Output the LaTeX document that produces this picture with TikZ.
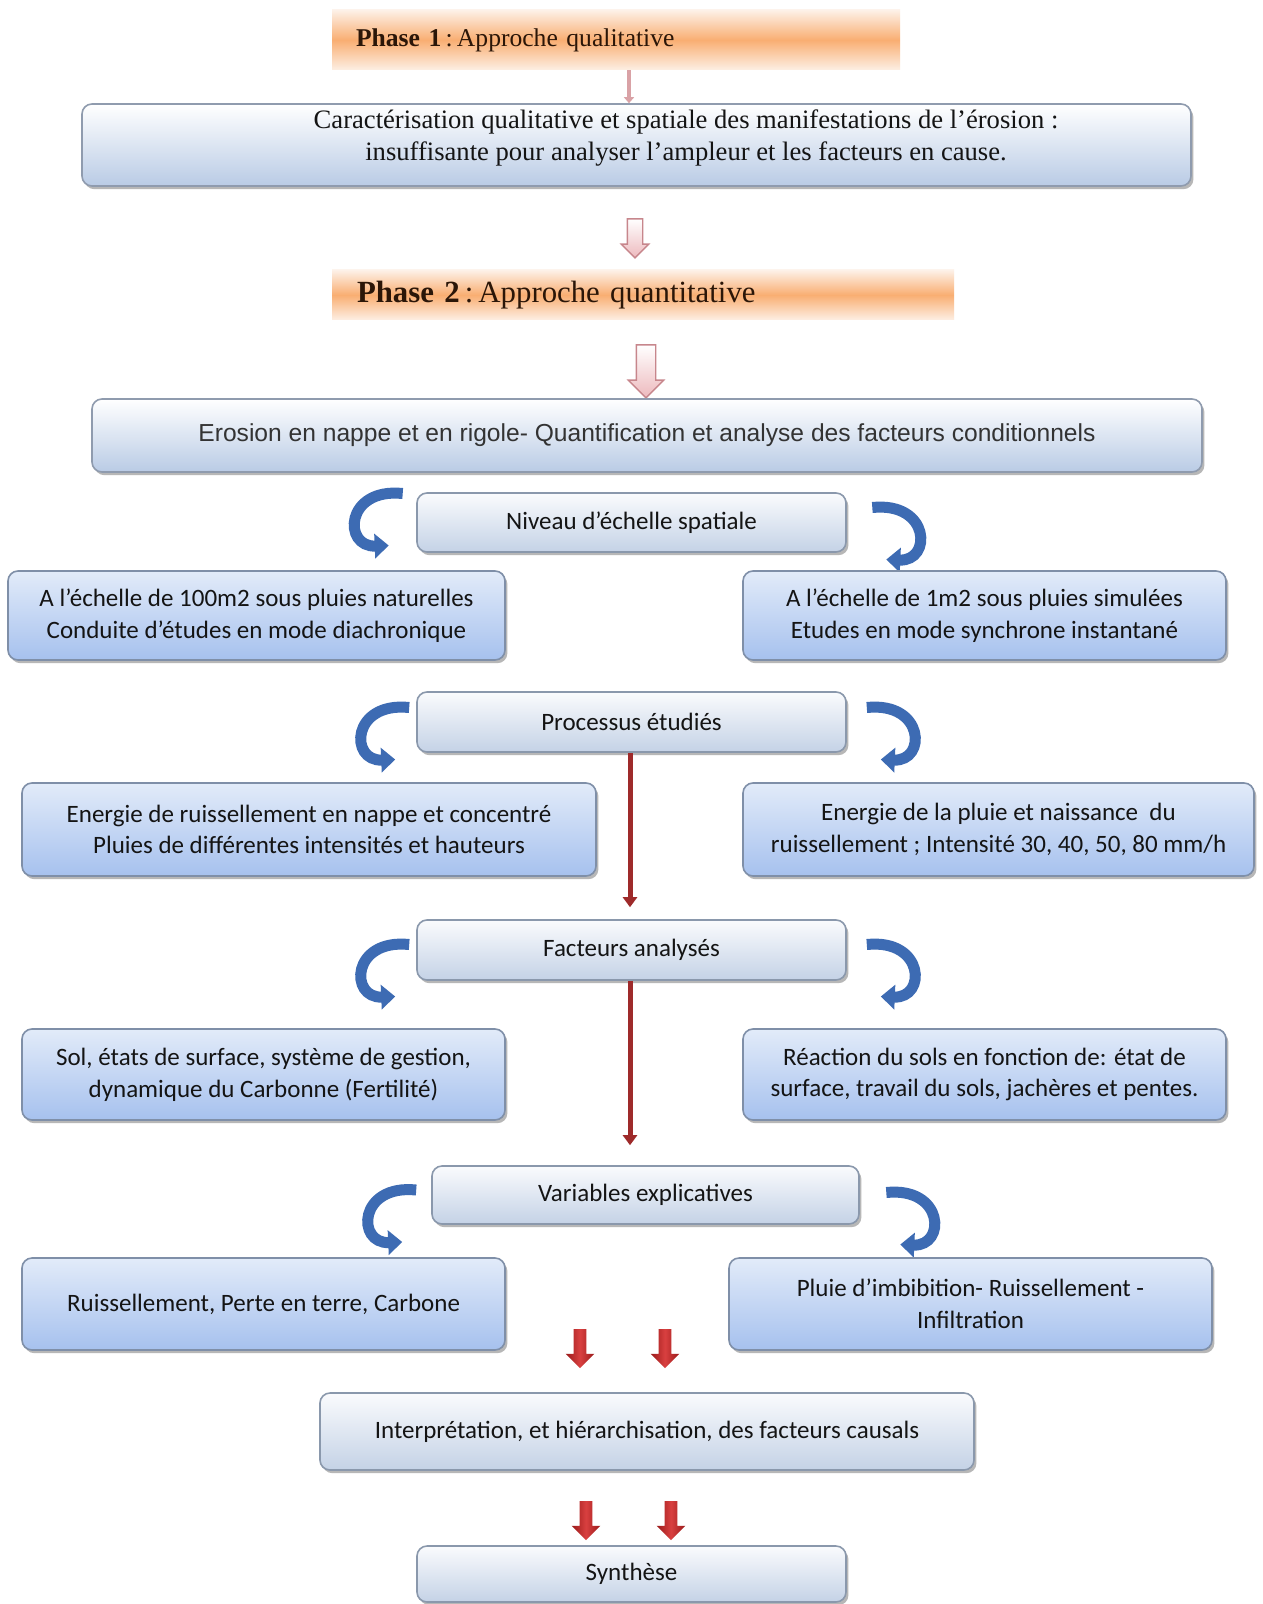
\documentclass[tikz,border=0pt]{standalone}
\usepackage{fontspec}
\setmainfont{Carlito}
\newfontfamily\serf{Liberation Serif}
\newfontfamily\arialf{Liberation Sans}
\usetikzlibrary{shapes.arrows,shadows,arrows.meta,calc}
\definecolor{textc}{HTML}{141414}
\definecolor{phtxt}{HTML}{2B1608}
\definecolor{phtop}{HTML}{FDF1E8}
\definecolor{phmid}{HTML}{F9AE72}
\definecolor{phbot}{HTML}{FDEFE4}
\definecolor{headtop}{HTML}{FAFBFD}
\definecolor{headbot}{HTML}{C4D2E6}
\definecolor{headdraw}{HTML}{8A98AC}
\definecolor{conttop}{HTML}{E2EBF9}
\definecolor{contbot}{HTML}{A6C1EE}
\definecolor{contdraw}{HTML}{7F8FA8}
\definecolor{titbot}{HTML}{B9CBE5}
\definecolor{titdraw}{HTML}{8F9BAE}
\definecolor{curlc}{HTML}{3D6BB3}
\definecolor{redl}{HTML}{9E2A2A}
\definecolor{pinkl}{HTML}{D9A2A6}
\definecolor{pinkd}{HTML}{C7868C}
\definecolor{pinkf}{HTML}{EDB9BD}
\definecolor{redd}{HTML}{9A1A1A}
\definecolor{redm}{HTML}{D94040}
\begin{document}
\begin{tikzpicture}[x=0.5pt,y=-0.5pt,
  basebox/.style={rounded corners=5pt, line width=0.8pt, align=center, inner sep=0pt,
    text=textc, font=\fontsize{12.5}{15.9}\selectfont,
    drop shadow={shadow xshift=1.2pt, shadow yshift=-1.6pt, opacity=0.4, fill=black!70}},
  headbox/.style={basebox, draw=headdraw, top color=headtop, bottom color=headbot},
  contbox/.style={basebox, draw=contdraw, top color=conttop, bottom color=contbot},
  titlebox/.style={basebox, draw=titdraw, top color=white, bottom color=titbot},
  phasebox/.style={top color=phtop, bottom color=phbot, middle color=phmid, inner sep=0pt,
    align=left, text=phtxt},
  hollowarr/.style={single arrow, shape border rotate=270, draw=pinkd, line width=0.7pt,
    top color=white, bottom color=pinkf, single arrow head indent=0pt},
  redarr/.style={single arrow, shape border rotate=270, draw=none, left color=redd,
    right color=redd, middle color=redm, inner sep=3pt, single arrow head extend=4pt,
    minimum height=19.5pt, single arrow head indent=0pt},
  redln/.style={draw=redl, line width=2.5pt, -{Triangle[width=7pt,length=5pt]}},
  pinkln/.style={draw=pinkl, line width=2pt, -{Triangle[width=5pt,length=3pt]}},
  curlline/.style={draw=curlc, line width=5.5pt, -{Triangle[width=12pt,length=7pt]}},
  curl/.pic={\draw[curlline] (20,-28) .. controls (-38,-34) and (-40,26) .. (6,24);}
]
\useasboundingbox[fill=white] (0,0) rectangle (1262,1604);

% Phase 1
\node[phasebox, minimum width=284pt, minimum height=30pt, text width=260pt,
  font=\serf\fontsize{12.8}{14}\selectfont] (p1) at (616,40) {\textbf{Phase 1}\,:\,Approche qualitative};
\node[titlebox, minimum width=554.5pt, minimum height=41pt] (car) at (636.5,145) {};
\node[font=\serf\fontsize{13.3}{16.4}\selectfont, align=center, text=textc, inner sep=0pt] (cart) at (686,138)
  {Caractérisation qualitative et spatiale des manifestations de l’érosion :\\
   insuffisante pour analyser l’ampleur et les facteurs en cause.};
\draw[pinkln] ([xshift=6.5pt]p1.south) -- ([xshift=-3.75pt]car.north);

\node[hollowarr, inner sep=3.5pt, single arrow head extend=3pt, minimum height=19.5pt] (ha1) at (635,234.5) {};

% Phase 2
\node[phasebox, minimum width=311pt, minimum height=25pt, text width=286pt,
  font=\serf\fontsize{15.4}{17}\selectfont] (p2) at (643,295) {\textbf{Phase 2}\,:\,Approche quantitative};
\node[hollowarr, inner sep=4.5pt, single arrow head extend=4pt, minimum height=26.5pt] (ha2) at (646,366.5) {};

\node[titlebox, minimum width=555pt, minimum height=36.5pt, font=\arialf\fontsize{12.3}{14}\selectfont,
  text=black!80] (ero) at (647,435.5) {Erosion en nappe et en rigole- Quantification et analyse des facteurs conditionnels};

% Niveau
\node[headbox, minimum width=214.5pt, minimum height=29.5pt] (niv) at (631.5,522.5) {Niveau d’échelle spatiale};
\pic at ($(niv.west)+(-33.5,-1)$) {curl};
\pic[xscale=-1] at ($(niv.east)+(45.5,13)$) {curl};
\node[contbox, minimum width=248.5pt, minimum height=44.5pt] (a100) at (256.5,615.5)
  {A l’échelle de 100m2 sous pluies naturelles\\Conduite d’études en mode diachronique};
\node[contbox, minimum width=241.5pt, minimum height=44.5pt] (a1) at (984.5,615.5)
  {A l’échelle de 1m2 sous pluies simulées\\Etudes en mode synchrone instantané};

% Processus
\node[headbox, minimum width=214.5pt, minimum height=30pt] (proc) at (631.5,722) {Processus étudiés};
\pic at ($(proc.west)+(-27,13.5)$) {curl};
\pic[xscale=-1] at ($(proc.east)+(40,13.5)$) {curl};
\node[contbox, minimum width=287pt, minimum height=46.5pt] (enr) at (309,829.5)
  {Energie de ruissellement en nappe et concentré\\Pluies de différentes intensités et hauteurs};
\node[contbox, minimum width=255.5pt, minimum height=46.5pt] (enp) at (998.5,829.5)
  {Energie de la pluie et naissance\ \ du\\ruissellement ; Intensité 30, 40, 50, 80 mm/h};

% Facteurs
\node[headbox, minimum width=214.5pt, minimum height=30pt] (fac) at (631.5,950) {Facteurs analysés};
\draw[redln] ([xshift=-0.75pt]proc.south) -- ([xshift=-0.75pt,yshift=6pt]fac.north);
\pic at ($(fac.west)+(-27,22.5)$) {curl};
\pic[xscale=-1] at ($(fac.east)+(40,22.5)$) {curl};
\node[contbox, minimum width=241.5pt, minimum height=45.5pt] (sol) at (263.5,1074.5)
  {Sol, états de surface, système de gestion,\\dynamique du Carbonne (Fertilité)};
\node[contbox, minimum width=241.5pt, minimum height=45.5pt] (rea) at (984.5,1074.5)
  {Réaction du sols en fonction de: état de\\surface, travail du sols, jachères et pentes.};

% Variables
\node[headbox, minimum width=213.5pt, minimum height=29pt] (var) at (645.5,1195) {Variables explicatives};
\coordinate (facb) at ([xshift=-0.75pt]fac.south);
\draw[redln] (facb) -- ([yshift=10pt]facb |- var.north);
\pic at ($(var.west)+(-35,23)$) {curl};
\pic[xscale=-1] at ($(var.east)+(46.5,25.5)$) {curl};
\node[contbox, minimum width=241.5pt, minimum height=46pt] (rui) at (263.5,1304)
  {Ruissellement, Perte en terre, Carbone};
\node[contbox, minimum width=241.5pt, minimum height=46pt] (plu) at (970.5,1304)
  {Pluie d’imbibition- Ruissellement -\\Infiltration};

\node[redarr] (rb1) at (580,1345.5) {};
\node[redarr] (rb2) at (665,1345.5) {};

\node[headbox, minimum width=327pt, minimum height=38.5pt] (int) at (647,1431.5)
  {Interprétation, et hiérarchisation, des facteurs causals};

\node[redarr] (rb3) at (586,1517.5) {};
\node[redarr] (rb4) at (671,1517.5) {};

\node[headbox, minimum width=214.5pt, minimum height=28pt] (syn) at (631.5,1574) {Synthèse};
\end{tikzpicture}
\end{document}
